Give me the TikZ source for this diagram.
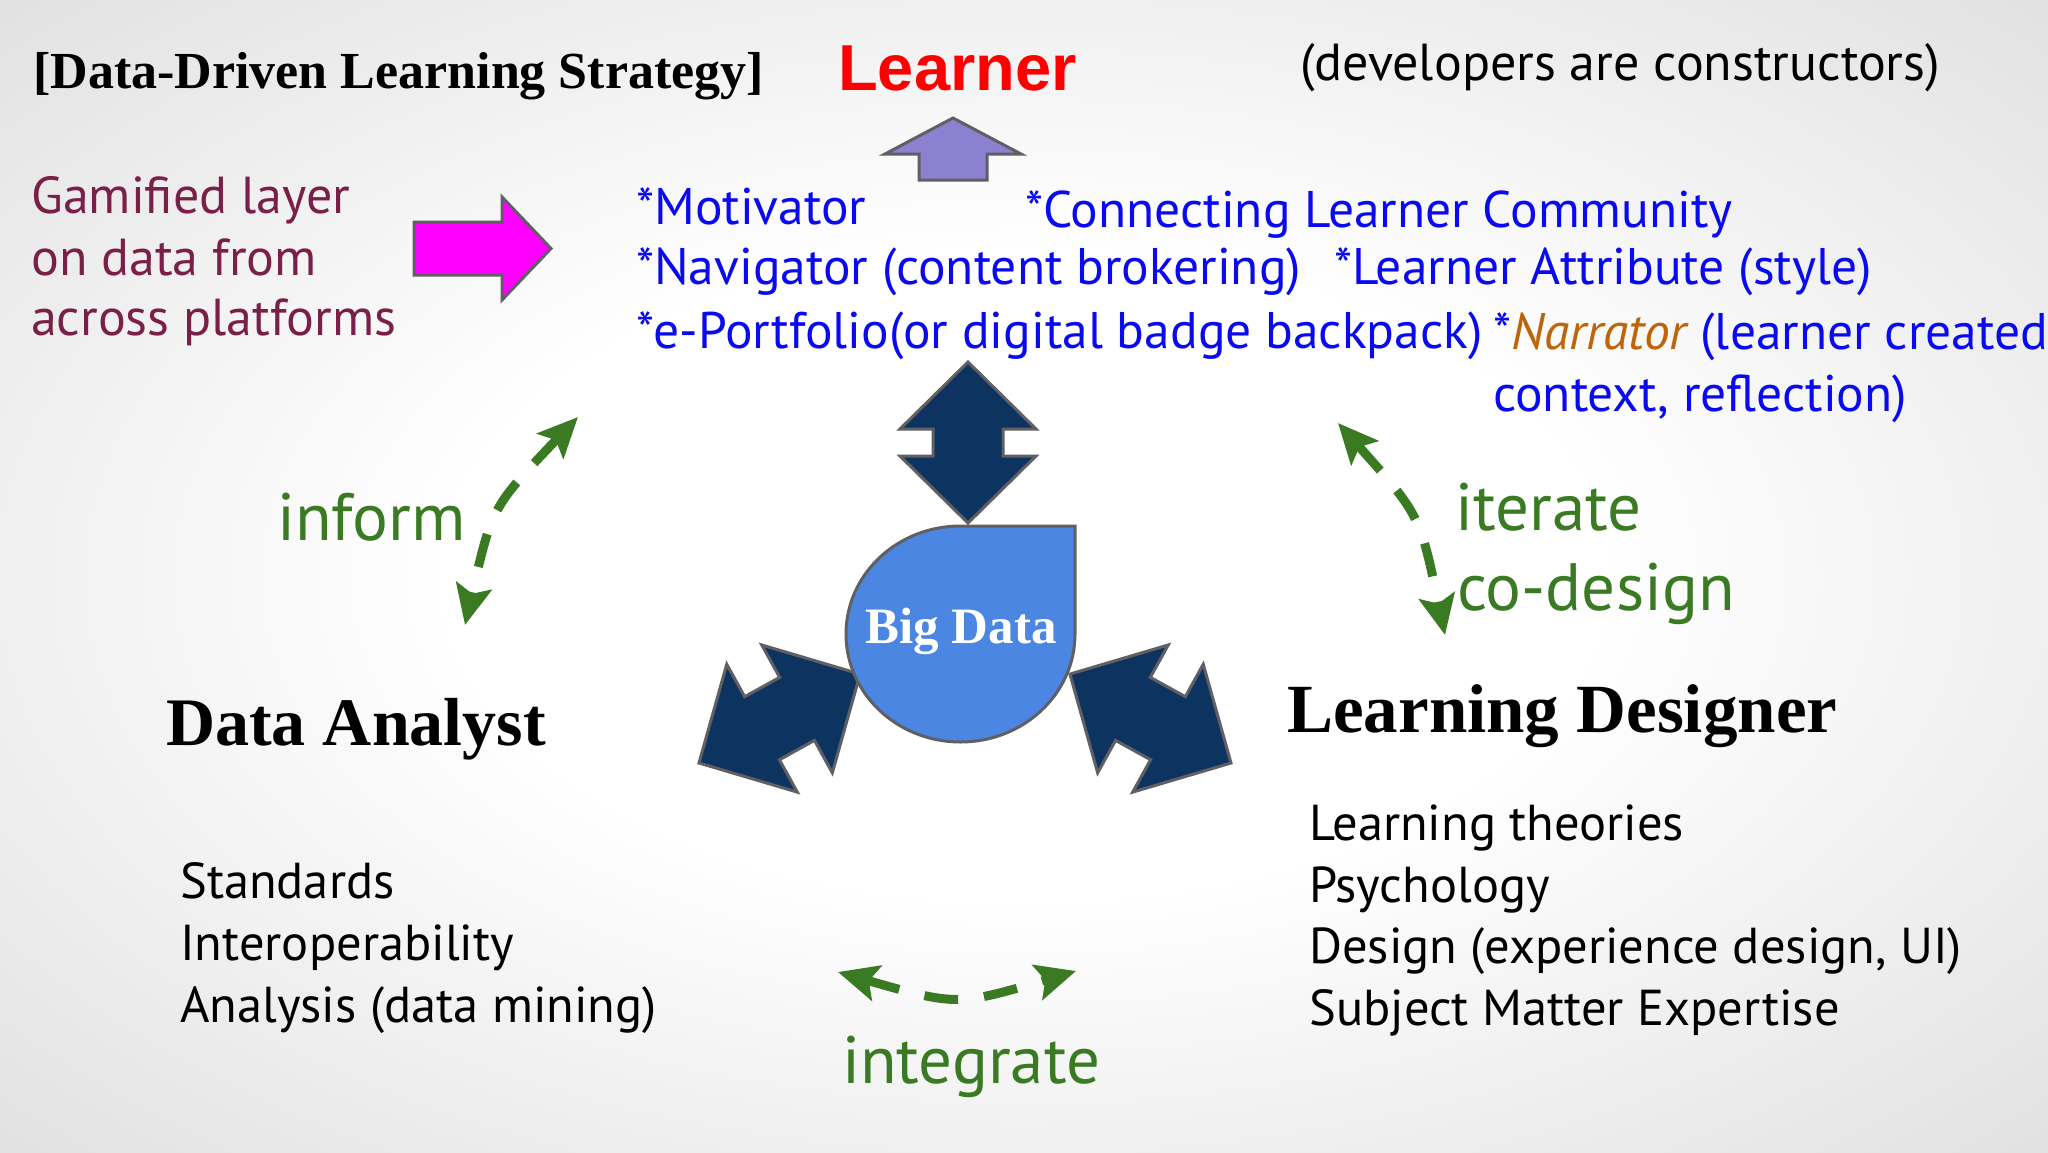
\documentclass[tikz,border=0pt]{standalone}
\usepackage{fontspec}
\setmainfont{PT Sans}
\newfontfamily\serifb{Liberation Serif}
\newfontfamily\sansb{Liberation Sans}
\usetikzlibrary{arrows.meta,calc}
\definecolor{navyarrow}{RGB}{13,52,97}
\definecolor{edgegray}{RGB}{96,96,100}
\definecolor{bdblue}{RGB}{74,134,226}
\definecolor{purplearrow}{RGB}{140,128,208}
\definecolor{magentaarrow}{RGB}{255,0,255}
\definecolor{maroontext}{RGB}{122,32,72}
\definecolor{bluetext}{RGB}{10,10,240}
\definecolor{narrorange}{RGB}{190,100,10}
\definecolor{greenarrow}{RGB}{58,122,34}
\pgfdeclareradialshading{bgshade}{\pgfpoint{0bp}{0bp}}{color(0bp)=(white); color(14bp)=(white); color(36bp)=(black!12); color(50bp)=(black!19)}
\newcommand\dblblockarrow[7]{%
  \begin{scope}[shift={(#1,#2)}, rotate=#3]
    \filldraw[blockarrow] (0,0) -- (#5,#6) -- (#5,#7) -- ({#4-#5},#7) -- ({#4-#5},#6) -- (#4,0)
      -- ({#4-#5},-#6) -- ({#4-#5},-#7) -- (#5,-#7) -- (#5,-#6) -- cycle;
  \end{scope}}
\begin{document}
\begin{tikzpicture}[x=1pt,y=-1pt,
  txt/.style={inner sep=0pt, anchor=base west},
  bluefont/.style={txt, text=bluetext, font=\fontsize{51.5}{60}\selectfont},
  gamfont/.style={txt, text=maroontext, font=\fontsize{52}{60}\selectfont},
  greenfont/.style={txt, text=greenarrow, font=\fontsize{67}{76}\selectfont},
  listfont/.style={txt, text=black, font=\fontsize{50.5}{60}\selectfont},
  blockarrow/.style={fill=navyarrow, draw=edgegray, line width=3pt, line join=miter},
  greendash/.style={draw=greenarrow, line width=9pt, dash pattern=on 34pt off 26pt,
     {Stealth[length=40pt,width=36pt,inset=8pt]}-{Stealth[length=40pt,width=36pt,inset=8pt]}}
]
\useasboundingbox (0,0) rectangle (2048,1152);
\clip (0,0) rectangle (2048,1152);
\shade[shading=bgshade] (0,0) rectangle (2048,1152);

% title texts
\node[txt, font=\serifb\bfseries\fontsize{52}{60}\selectfont] (title) at (33,88) {[Data-Driven Learning Strategy]};
\node[txt, text=red, font=\sansb\bfseries\fontsize{65}{72}\selectfont] (learner) at (838,90) {Learner};
\node[txt, font=\fontsize{52}{60}\selectfont] (dev) at (1300,80) {(developers are constructors)};

% purple up arrow
\filldraw[fill=purplearrow, draw=edgegray, line width=3pt] (953,118) -- (1021,154) -- (987,154) -- (987,180) -- (919,180) -- (919,154) -- (885,154) -- cycle;

% magenta arrow
\filldraw[fill=magentaarrow, draw=edgegray, line width=3pt] (414,222) -- (502,222) -- (502,197) -- (551,248.5) -- (502,300) -- (502,275) -- (414,275) -- cycle;

% gamified text
\node[gamfont] (gam1) at (31,213) {Gamified layer};
\node[gamfont] (gam2) at (31,275) {on data from};
\node[gamfont] (gam3) at (31,335) {across platforms};

% blue texts
\node[bluefont] (mot) at (636,224) {*Motivator};
\node[bluefont] (con) at (1025,227) {*Connecting Learner Community};
\node[bluefont] (nav) at (636,284) {*Navigator (content brokering)};
\node[bluefont] (att) at (1334,284) {*Learner Attribute (style)};
\node[bluefont] (port) at (636,348) {*e-Portfolio(or digital badge backpack)};
\node[bluefont] (narr) at (1493,349) {*\textcolor{narrorange}{\itshape Narrator} (learner created};
\node[bluefont] (ctx) at (1493,411) {context, reflection)};

% block arrows around Big Data
\dblblockarrow{968}{362}{-90}{161}{67}{68}{35}
\dblblockarrow{699}{763}{28.9}{184}{72}{73}{36}
\dblblockarrow{1231}{763}{151.1}{184}{72}{73}{36}

% Big Data teardrop
\filldraw[fill=bdblue, draw=edgegray, line width=3pt] (960.5,526) -- (1075,526) -- (1075,634)
   arc[start angle=0, end angle=270, x radius=114.5, y radius=108] -- cycle;
\node[inner sep=0pt, anchor=base, text=white, font=\serifb\bfseries\fontsize{51}{58}\selectfont] (bigdata) at (961,643) {Big Data};

% headings
\node[txt, font=\serifb\bfseries\fontsize{68}{76}\selectfont] (analyst) at (166,745) {Data Analyst};
\node[txt, font=\serifb\bfseries\fontsize{69}{76}\selectfont] (designer) at (1287,732) {Learning Designer};

% lists
\node[listfont] (l1) at (180,898) {Standards};
\node[listfont] (l2) at (180,960) {Interoperability};
\node[listfont] (l3) at (180,1022) {Analysis (data mining)};
\node[listfont] (r1) at (1309,840) {Learning theories};
\node[listfont] (r2) at (1309,902) {Psychology};
\node[listfont] (r3) at (1309,963) {Design (experience design, UI)};
\node[listfont] (r4) at (1309,1025) {Subject Matter Expertise};

% green labels
\node[greenfont] (inform) at (277,540) {inform};
\node[greenfont] (iterate) at (1455,530) {iterate};
\node[greenfont] (codesign) at (1457,610) {co-design};
\node[greenfont] (integrate) at (842,1083) {integrate};

% green dashed double arrows
\coordinate (infA) at (578,417);
\coordinate (infB) at (465,625);
\coordinate (itA) at (1338,423);
\coordinate (itB) at (1445,635);
\coordinate (intA) at (838,972);
\coordinate (intB) at (1076,971);
\draw[greendash] (infA) .. controls (492,507) .. (infB);
\draw[greendash] (itA) .. controls (1420,515) .. (itB);
\draw[greendash] (intA) .. controls (957,1006) .. (intB);
\end{tikzpicture}
\end{document}
